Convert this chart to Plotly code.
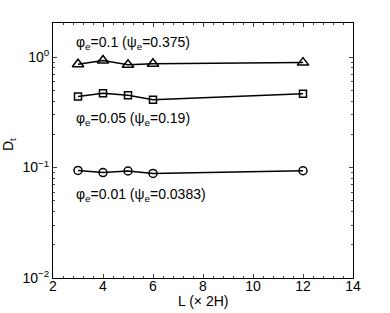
import math
import plotly.graph_objects as go

L = [3, 4, 5, 6, 12]
d_phi01 = [0.86, 0.93, 0.85, 0.87, 0.89]
d_phi005 = [0.44, 0.47, 0.45, 0.41, 0.466]
d_phi001 = [0.094, 0.090, 0.093, 0.0885, 0.0935]
ytick_vals = [0.01, 0.1, 1]
ytick_text = ["10<sup>−2</sup>", "10<sup>−1</sup>", "10<sup>0</sup>"]
labels = ["φ<sub>e</sub>=0.1 (ψ<sub>e</sub>=0.375)",
          "φ<sub>e</sub>=0.05 (ψ<sub>e</sub>=0.19)",
          "φ<sub>e</sub>=0.01 (ψ<sub>e</sub>=0.0383)"]
label_y = [1.33, 0.275, 0.056]

W, H = 390, 313
ml, mr, mt, mb = 53, 37, 23, 35
pw, ph = W - ml - mr, H - mt - mb

fig = go.Figure()
for ys, sym, sz in [(d_phi01, "triangle-up-open", 10), (d_phi005, "square-open", 7), (d_phi001, "circle-open", 8)]:
    fig.add_trace(go.Scatter(x=L, y=ys, mode="lines+markers",
                             line=dict(color="black", width=1.5),
                             marker=dict(symbol=sym, size=sz, color="black", line=dict(width=1.5)),
                             showlegend=False))
for t, yv in zip(labels, label_y):
    fig.add_annotation(x=2.82, y=math.log10(yv), text=t, showarrow=False,
                       xanchor="left", yanchor="middle", font=dict(size=14, color="black"))

fig.add_annotation(xref="paper", yref="paper", x=-(ml - 9) / pw, y=(278 - 145) / ph,
                   text="D<sub>t</sub>", textangle=-90, showarrow=False,
                   xanchor="center", yanchor="middle", font=dict(size=14, color="black"))
fig.add_annotation(xref="paper", yref="paper", x=0.5, y=-23 / ph,
                   text="L (× 2H)", showarrow=False,
                   xanchor="center", yanchor="middle", font=dict(size=14, color="black"))

fig.update_layout(
    width=W, height=H,
    margin=dict(l=ml, r=mr, t=mt, b=mb),
    paper_bgcolor="white", plot_bgcolor="white",
    font=dict(family="Liberation Sans, Arial, sans-serif", size=13, color="black"),
)
fig.update_xaxes(range=[2, 14], dtick=2, ticks="inside", ticklen=4, mirror="ticks", automargin=False,
                 showline=True, linecolor="black", linewidth=1, showgrid=False, zeroline=False,
                 minor=dict(dtick=0.4, ticks="inside", ticklen=2), tickfont=dict(size=14),
                 ticklabelstandoff=-5)
fig.update_yaxes(type="log", range=[-2, 0.308], tickvals=ytick_vals, ticktext=ytick_text,
                 ticks="inside", ticklen=4, mirror="ticks", showline=True, linecolor="black",
                 linewidth=1, showgrid=False, zeroline=False, automargin=False,
                 minor=dict(ticks="inside", ticklen=2, dtick="D1"), tickfont=dict(size=14))
fig.write_html("out.html", config={"displayModeBar": False},
               post_script="document.body.style.margin='0px';")
